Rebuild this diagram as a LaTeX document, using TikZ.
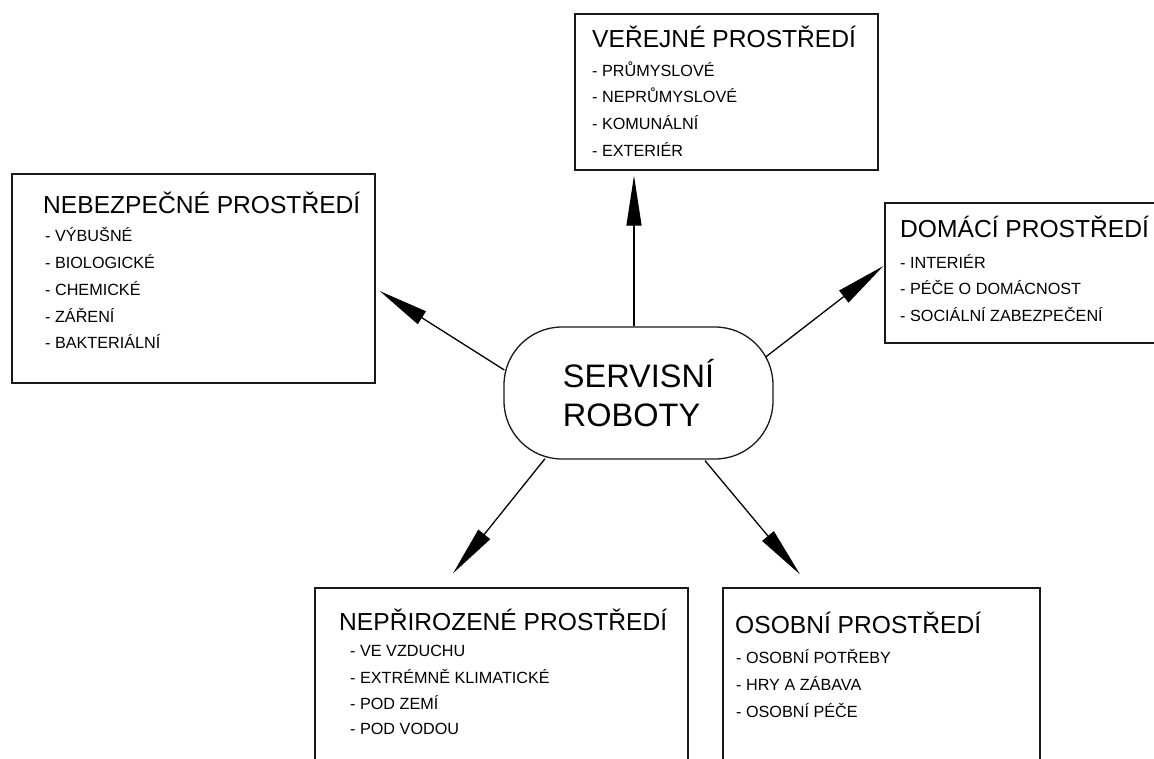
\documentclass[tikz,border=0pt]{standalone}
\usepackage{fontspec}
\setmainfont{Liberation Sans}
\usetikzlibrary{arrows.meta,calc}
\begin{document}
\begin{tikzpicture}[x=1pt,y=-1pt,
  box/.style={draw=black!90, line width=1.3pt, inner sep=0pt},
  title/.style={anchor=base west, inner sep=0pt, font=\fontsize{24.6}{24.6}\selectfont},
  item/.style={anchor=base west, inner sep=0pt, font=\fontsize{16.2}{16.2}\selectfont},
  arr/.style={line width=1.3pt, -{Triangle[length=50pt,width=15pt]}}
]
\clip (0,0) rectangle (1154,758);
\fill[white] (0,0) rectangle (1154,758);

% boxes
\node[box, minimum width=303pt, minimum height=156pt] (pub) at (726.5,92) {};
\node[box, minimum width=363pt, minimum height=209pt] (haz) at (193.5,278.5) {};
\node[box, minimum width=285pt, minimum height=140pt] (dom) at (1027.5,273) {};
\node[box, minimum width=373pt, minimum height=192pt] (art) at (501.5,684) {};
\node[box, minimum width=317pt, minimum height=192pt] (per) at (881.5,684) {};

% centre
\node[box, rounded corners=58pt, minimum width=269pt, minimum height=132pt,
      font=\fontsize{32.5}{39.5}\selectfont, align=left] (c) at (638.5,393) {SERVISNÍ\\ROBOTY};

% texts: public
\node[title] (pubt) at (592,47) {VEŘEJNÉ PROSTŘEDÍ};
\node[item] (pub1) at (592,76) {- PRŮMYSLOVÉ};
\node[item] (pub2) at (592,102) {- NEPRŮMYSLOVÉ};
\node[item] (pub3) at (592,129) {- KOMUNÁLNÍ};
\node[item] (pub4) at (592,156) {- EXTERIÉR};

% hazardous
\node[title] (hazt) at (43,213) {NEBEZPEČNÉ PROSTŘEDÍ};
\node[item] (haz1) at (45,241) {- VÝBUŠNÉ};
\node[item] (haz2) at (45,268) {- BIOLOGICKÉ};
\node[item] (haz3) at (45,295) {- CHEMICKÉ};
\node[item] (haz4) at (45,322) {- ZÁŘENÍ};
\node[item] (haz5) at (45,348) {- BAKTERIÁLNÍ};

% domestic
\node[title] (domt) at (900,237) {DOMÁCÍ PROSTŘEDÍ};
\node[item] (dom1) at (900,268) {- INTERIÉR};
\node[item] (dom2) at (900,294) {- PÉČE O DOMÁCNOST};
\node[item] (dom3) at (900,321) {- SOCIÁLNÍ ZABEZPEČENÍ};

% artificial
\node[title] (artt) at (339,630) {NEPŘIROZENÉ PROSTŘEDÍ};
\node[item] (art1) at (350,656) {- VE VZDUCHU};
\node[item] (art2) at (350,683) {- EXTRÉMNĚ KLIMATICKÉ};
\node[item] (art3) at (350,709) {- POD ZEMÍ};
\node[item] (art4) at (350,734) {- POD VODOU};

% personal
\node[title] (pert) at (735,633) {OSOBNÍ PROSTŘEDÍ};
\node[item] (per1) at (736,663) {- OSOBNÍ POTŘEBY};
\node[item] (per2) at (736,690) {- HRY A ZÁBAVA};
\node[item] (per3) at (736,717) {- OSOBNÍ PÉČE};

% arrows
\coordinate (ct) at ($(c.north)+(-4.5,0)$);
\draw[arr, shorten >=5pt] (ct) -- (ct |- pub.south);
\draw[arr] ($(c.west)+(1,-23)$) -- ($(haz.east)+(4,12.5)$);
\draw[arr] ($(c.east)+(-8,-36)$) -- ($(dom.west)+(-1,-7)$);
\draw[arr] ($(c.south)+(-93.5,-1)$) -- ($(art.north)+(-48.5,-14)$);
\draw[arr] ($(c.south)+(66.5,1)$) -- ($(per.north)+(-81.5,-13)$);
\end{tikzpicture}
\end{document}
